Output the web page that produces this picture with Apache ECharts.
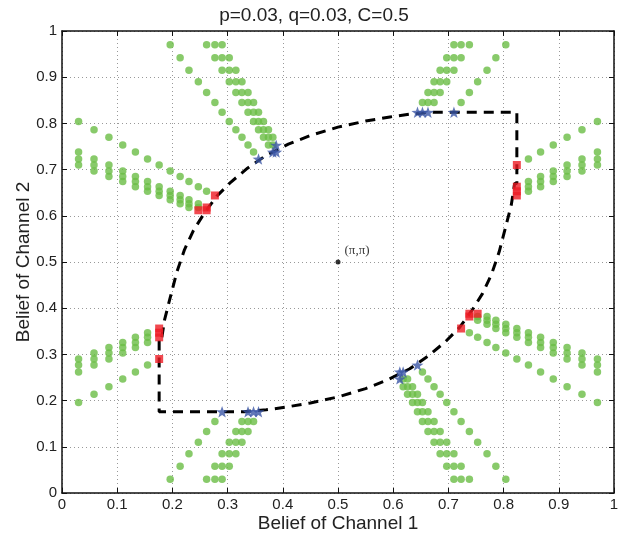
<!DOCTYPE html>
<html>
<head>
<meta charset="utf-8">
<script src="https://cdn.jsdelivr.net/npm/echarts@6/dist/echarts.min.js"></script>
<style>html,body{margin:0;padding:0;background:#fff}#c{width:628px;height:535px}</style>
</head>
<body>
<div id="c"></div>
<script>
const titleText = 'p=0.03, q=0.03, C=0.5';
const xName = 'Belief of Channel 1';
const yName = 'Belief of Channel 2';
const tickLabels = ['0','0.1','0.2','0.3','0.4','0.5','0.6','0.7','0.8','0.9','1'];

const greenUpperLeftH = [
 [0.03,0.804],[0.058,0.786],[0.085,0.77],[0.11,0.753],[0.133,0.738],[0.155,0.723],[0.176,0.71],[0.196,0.697],[0.214,0.685],[0.23,0.674],[0.247,0.663],[0.262,0.653],
 [0.03,0.738],[0.03,0.723],[0.03,0.71],
 [0.058,0.723],[0.058,0.71],[0.058,0.697],
 [0.085,0.71],[0.085,0.697],[0.085,0.685],
 [0.11,0.697],[0.11,0.685],[0.11,0.674],
 [0.133,0.685],[0.133,0.674],[0.133,0.663],
 [0.155,0.674],[0.155,0.663],[0.155,0.653],
 [0.176,0.663],[0.176,0.653],[0.176,0.644],
 [0.196,0.653],[0.196,0.644],[0.196,0.635],
 [0.214,0.644],[0.214,0.635],[0.214,0.626],
 [0.23,0.635],[0.23,0.626],[0.23,0.618],
 [0.247,0.626],[0.247,0.618]
];
const greenUpperLeftV = [
 [0.196,0.97],[0.214,0.942],[0.23,0.915],[0.247,0.89],[0.262,0.867],[0.277,0.845],[0.29,0.824],[0.303,0.804],[0.315,0.786],[0.326,0.77],[0.337,0.753],[0.347,0.738],
 [0.262,0.97],[0.277,0.97],[0.29,0.97],
 [0.277,0.942],[0.29,0.942],[0.303,0.942],
 [0.29,0.915],[0.303,0.915],[0.315,0.915],
 [0.303,0.89],[0.315,0.89],[0.326,0.89],
 [0.315,0.867],[0.326,0.867],[0.337,0.867],
 [0.326,0.845],[0.337,0.845],[0.347,0.845],
 [0.337,0.824],[0.347,0.824],[0.356,0.824],
 [0.347,0.804],[0.356,0.804],[0.365,0.804],
 [0.356,0.786],[0.365,0.786],[0.374,0.786],
 [0.365,0.77],[0.374,0.77],[0.382,0.77],
 [0.374,0.753],[0.382,0.753]
];
const greenUpperRightH = [
 [0.97,0.804],[0.942,0.786],[0.915,0.77],[0.89,0.753],[0.867,0.738],[0.845,0.723],
 [0.97,0.738],[0.97,0.723],[0.97,0.71],
 [0.942,0.723],[0.942,0.71],[0.942,0.697],
 [0.915,0.71],[0.915,0.697],[0.915,0.685],
 [0.89,0.697],[0.89,0.685],[0.89,0.674],
 [0.867,0.685],[0.867,0.674],[0.867,0.663],
 [0.845,0.674],[0.845,0.663],[0.845,0.653]
];
const greenUpperRightV = [
 [0.804,0.97],[0.786,0.942],[0.77,0.915],[0.753,0.89],[0.738,0.867],[0.723,0.845],
 [0.738,0.97],[0.723,0.97],[0.71,0.97],
 [0.723,0.942],[0.71,0.942],[0.697,0.942],
 [0.71,0.915],[0.697,0.915],[0.685,0.915],
 [0.697,0.89],[0.685,0.89],[0.674,0.89],
 [0.685,0.867],[0.674,0.867],[0.663,0.867],
 [0.674,0.845],[0.663,0.845],[0.653,0.845]
];
const greenLowerLeftH = [
 [0.03,0.196],[0.058,0.214],[0.085,0.23],[0.11,0.247],[0.133,0.262],[0.155,0.277],
 [0.03,0.262],[0.03,0.277],[0.03,0.29],
 [0.058,0.277],[0.058,0.29],[0.058,0.303],
 [0.085,0.29],[0.085,0.303],[0.085,0.315],
 [0.11,0.303],[0.11,0.315],[0.11,0.326],
 [0.133,0.315],[0.133,0.326],[0.133,0.337],
 [0.155,0.326],[0.155,0.337],[0.155,0.347]
];
const greenLowerLeftV = [
 [0.196,0.03],[0.214,0.058],[0.23,0.085],[0.247,0.11],[0.262,0.133],[0.277,0.155],
 [0.262,0.03],[0.277,0.03],[0.29,0.03],
 [0.277,0.058],[0.29,0.058],[0.303,0.058],
 [0.29,0.085],[0.303,0.085],[0.315,0.085],
 [0.303,0.11],[0.315,0.11],[0.326,0.11],
 [0.315,0.133],[0.326,0.133],[0.337,0.133],
 [0.326,0.155],[0.337,0.155],[0.347,0.155]
];
const greenLowerRightH = [
 [0.97,0.196],[0.942,0.214],[0.915,0.23],[0.89,0.247],[0.867,0.262],[0.845,0.277],[0.824,0.29],[0.804,0.303],[0.786,0.315],[0.77,0.326],[0.753,0.337],[0.738,0.347],
 [0.97,0.262],[0.97,0.277],[0.97,0.29],
 [0.942,0.277],[0.942,0.29],[0.942,0.303],
 [0.915,0.29],[0.915,0.303],[0.915,0.315],
 [0.89,0.303],[0.89,0.315],[0.89,0.326],
 [0.867,0.315],[0.867,0.326],[0.867,0.337],
 [0.845,0.326],[0.845,0.337],[0.845,0.347],
 [0.824,0.337],[0.824,0.347],[0.824,0.356],
 [0.804,0.347],[0.804,0.356],[0.804,0.365],
 [0.786,0.356],[0.786,0.365],[0.786,0.374],
 [0.77,0.365],[0.77,0.374],[0.77,0.382],
 [0.753,0.374],[0.753,0.382]
];
const greenLowerRightV = [
 [0.804,0.03],[0.786,0.058],[0.77,0.085],[0.753,0.11],[0.738,0.133],[0.723,0.155],[0.71,0.176],[0.697,0.196],[0.685,0.214],[0.674,0.23],[0.663,0.247],[0.653,0.262],
 [0.738,0.03],[0.723,0.03],[0.71,0.03],
 [0.723,0.058],[0.71,0.058],[0.697,0.058],
 [0.71,0.085],[0.697,0.085],[0.685,0.085],
 [0.697,0.11],[0.685,0.11],[0.674,0.11],
 [0.685,0.133],[0.674,0.133],[0.663,0.133],
 [0.674,0.155],[0.663,0.155],[0.653,0.155],
 [0.663,0.176],[0.653,0.176],[0.644,0.176],
 [0.653,0.196],[0.644,0.196],[0.635,0.196],
 [0.644,0.214],[0.635,0.214],[0.626,0.214],
 [0.635,0.23],[0.626,0.23],[0.618,0.23],
 [0.626,0.247],[0.618,0.247]
];
const redSquares = [
 [0.277,0.644],[0.247,0.612],[0.262,0.618],[0.262,0.612],
 [0.824,0.71],[0.824,0.663],[0.824,0.653],[0.824,0.644],
 [0.176,0.29],[0.176,0.337],[0.176,0.347],[0.176,0.356],
 [0.723,0.356],[0.753,0.388],[0.738,0.382],[0.738,0.388]
];
const blueStars = [
 [0.356,0.723],[0.388,0.753],[0.382,0.738],[0.388,0.738],
 [0.71,0.824],[0.663,0.824],[0.653,0.824],[0.644,0.824],
 [0.29,0.176],[0.337,0.176],[0.347,0.176],[0.356,0.176],
 [0.644,0.277],[0.612,0.247],[0.618,0.262],[0.612,0.262]
];
const boundary = [
 [0.176,0.33],[0.176,0.176],[0.33,0.176],[0.37,0.18],[0.406,0.186],[0.45,0.195],[0.5,0.208],[0.55,0.226],[0.59,0.245],[0.63,0.269],[0.664,0.297],[0.695,0.328],[0.72,0.358],[0.742,0.394],[0.762,0.432],[0.778,0.473],[0.792,0.522],[0.804,0.577],[0.814,0.624],[0.82,0.67],[0.824,0.67],
 [0.824,0.824],[0.67,0.824],[0.63,0.82],[0.594,0.814],[0.55,0.805],[0.5,0.792],[0.45,0.774],[0.41,0.755],[0.37,0.731],[0.336,0.703],[0.305,0.672],[0.28,0.642],[0.258,0.606],[0.238,0.568],[0.222,0.527],[0.208,0.478],[0.196,0.423],[0.186,0.376],[0.18,0.33],[0.176,0.33]
];
const centerPoint = [[0.5,0.5]];
const centerLabel = '(\u03c0,\u03c0)';

const greenAll = [].concat(greenUpperLeftH, greenUpperLeftV, greenUpperRightH, greenUpperRightV,
  greenLowerLeftH, greenLowerLeftV, greenLowerRightH, greenLowerRightV);

const starPath = 'path://M0,-10 L2.35,-3.24 L9.51,-3.09 L3.8,1.24 L5.88,8.09 L0,4.2 L-5.88,8.09 L-3.8,1.24 L-9.51,-3.09 L-2.35,-3.24 Z';
const font = 'Liberation Sans, Arial, Helvetica, sans-serif';
const fmt = v => tickLabels[Math.round(v * 10)];

function xAx(pos, show) {
  return {
    type: 'value', min: 0, max: 1, interval: 0.1, position: pos,
    name: show ? xName : '', nameLocation: 'middle', nameGap: 21, nameMoveOverlap: false,
    nameTextStyle: { fontSize: 19, color: '#222', fontFamily: font },
    axisLine: { show: true, onZero: false, lineStyle: { color: '#111', width: 1.5 } },
    axisTick: { show: true, inside: true, length: 5, lineStyle: { color: '#111', width: 1 } },
    axisLabel: { show: show, formatter: fmt, fontSize: 15, color: '#222', fontFamily: font, margin: 4 },
    splitLine: { show: show, lineStyle: { type: [1, 3], color: '#999', width: 1 } }
  };
}
function yAx(pos, show) {
  return {
    type: 'value', min: 0, max: 1, interval: 0.1, position: pos,
    name: show ? yName : '', nameLocation: 'middle', nameGap: 29, nameMoveOverlap: false,
    nameTextStyle: { fontSize: 19, color: '#222', fontFamily: font },
    axisLine: { show: true, onZero: false, lineStyle: { color: '#111', width: 1.5 } },
    axisTick: { show: true, inside: true, length: 5, lineStyle: { color: '#111', width: 1 } },
    axisLabel: { show: show, formatter: fmt, fontSize: 15, color: '#222', fontFamily: font, margin: 5 },
    splitLine: { show: show, lineStyle: { type: [1, 3], color: '#999', width: 1 } }
  };
}

const chart = echarts.init(document.getElementById('c'), null, { renderer: 'canvas' });
chart.setOption({
  animation: false,
  backgroundColor: '#fff',
  title: { text: titleText, left: 'center', top: 1, textStyle: { fontSize: 19, fontWeight: 'normal', color: '#222', fontFamily: font } },
  grid: { left: 62, right: 14, top: 31, bottom: 42, containLabel: false, outerBoundsMode: 'none' },
  xAxis: [xAx('bottom', true), xAx('top', false)],
  yAxis: [yAx('left', true), yAx('right', false)],
  series: [
    { type: 'scatter', data: greenAll, symbol: 'circle', symbolSize: 7.5, itemStyle: { color: '#6abd45' }, z: 2 },
    { type: 'line', data: boundary, symbol: 'none', smooth: false, lineStyle: { color: '#000', width: 3, type: [10, 7] }, z: 3 },
    { type: 'scatter', data: redSquares, symbol: 'rect', symbolSize: 8, itemStyle: { color: '#ee1c24' }, z: 4 },
    { type: 'scatter', data: blueStars, symbol: starPath, symbolSize: 12, symbolKeepAspect: true, itemStyle: { color: '#3b56a6' }, z: 5 },
    { type: 'scatter', data: centerPoint, symbol: 'circle', symbolSize: 5, itemStyle: { color: '#000' }, z: 6,
      label: { show: true, formatter: centerLabel, position: 'right', distance: 4, offset: [0, -11], fontSize: 13, color: '#000', fontFamily: 'Liberation Serif, DejaVu Serif, serif' } }
  ]
});
</script>
</body>
</html>
